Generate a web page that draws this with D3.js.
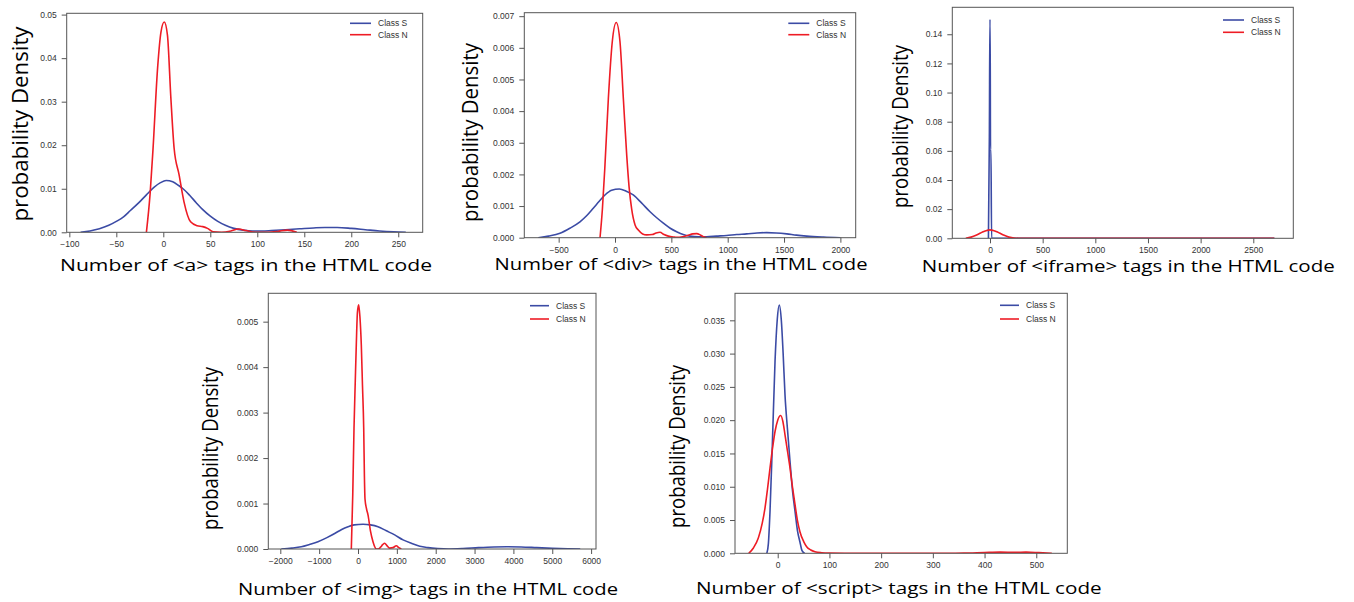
<!DOCTYPE html>
<html>
<head>
<meta charset="utf-8">
<script src="https://cdn.jsdelivr.net/npm/d3@7"></script>
<style>
body { margin: 0; background: #fff; }
</style>
</head>
<body>
<svg id="chart" width="1354" height="602"></svg>
<script>
/////////////// data ////////////////
const SERIES_NAMES = ["Class S", "Class N"];

// <a> tags
const A_TICKS_X = [-100, -50, 0, 50, 100, 150, 200, 250];
const A_TICKS_Y = [0, 0.01, 0.02, 0.03, 0.04, 0.05];
const A_S = [[-88,0],[-78,0.0003],[-68,0.0008],[-58,0.0016],[-50,0.0025],[-42,0.0036],[-35,0.0050],[-26,0.0068],[-18,0.0086],[-10,0.0103],[-3,0.0114],[3,0.0119],[10,0.0116],[16,0.0108],[21,0.0100],[28,0.0085],[35,0.0068],[42,0.0052],[50,0.0037],[58,0.0025],[66,0.0016],[75,0.0009],[85,0.0005],[95,0.0003],[105,0.0003],[115,0.0004],[130,0.0006],[145,0.0008],[160,0.0010],[172,0.0011],[185,0.0011],[200,0.0009],[215,0.0006],[230,0.0003],[245,0.0001],[258,0]];
const A_N = [[-18,0],[-14,0.009],[-11,0.019],[-6,0.038],[-2.5,0.046],[1,0.0483],[4.4,0.0453],[8,0.031],[11.5,0.0193],[16.8,0.0132],[22,0.007],[29,0.0024],[36,0.0015],[42,0.0013],[47,0.0009],[53,0.0001],[62,0],[72,0.0003],[80,0.00076],[88,0.0004],[98,0],[110,0],[122,0.0002],[132,0.0005],[142,0]];

// <div> tags
const DIV_TICKS_X = [-500, 0, 500, 1000, 1500, 2000];
const DIV_TICKS_Y = [0, 0.001, 0.002, 0.003, 0.004, 0.005, 0.006, 0.007];
const DIV_S = [[-681,0],[-590,0.00005],[-488,0.00014],[-400,0.0003],[-311,0.0005],[-250,0.0007],[-193,0.00093],[-140,0.00115],[-89,0.00135],[-30,0.0015],[38,0.00154],[100,0.00147],[162,0.00135],[235,0.0011],[311,0.00082],[370,0.00063],[429,0.00046],[490,0.0003],[547,0.00019],[605,0.0001],[665,0.00005],[740,0.00003],[814,0.00003],[900,0.00005],[991,0.00007],[1080,0.0001],[1169,0.00012],[1260,0.00015],[1346,0.00016],[1430,0.00015],[1524,0.00012],[1610,0.00008],[1701,0.00005],[1850,0.00002],[2000,0]];
const DIV_N = [[-133,0],[-112,0.0009],[-89,0.0023],[-59,0.0044],[-24,0.0062],[11,0.0068],[44,0.0062],[74,0.0044],[104,0.0026],[125,0.0016],[148,0.0009],[178,0.0004],[207,0.00024],[245,0.00012],[281,0.00009],[330,0.0001],[365,0.00015],[399,0.00017],[435,0.0001],[473,0.00005],[520,0.00002],[547,0.00001],[600,0.00003],[650,0.00008],[690,0.00012],[725,0.00013],[760,0.00008],[790,0.00002],[814,0]];

// <iframe> tags
const IFRAME_TICKS_X = [0, 500, 1000, 1500, 2000, 2500];
const IFRAME_TICKS_Y = [0, 0.02, 0.04, 0.06, 0.08, 0.10, 0.12, 0.14];
const IFRAME_S = [[-15,0],[-6,0.07],[-1,0.150],[1,0.150],[5,0.061],[9,0.061],[15,0],[100,0],[2700,0]];
const IFRAME_N = [[-230,0],[-180,0.0008],[-127,0.0023],[-90,0.0036],[-64,0.0045],[-30,0.0054],[0,0.0058],[30,0.0054],[64,0.0045],[90,0.0036],[127,0.0023],[180,0.0008],[230,0.0002],[300,0],[2700,0]];

// <img> tags
const IMG_TICKS_X = [-2000, -1000, 0, 1000, 2000, 3000, 4000, 5000, 6000];
const IMG_TICKS_Y = [0, 0.001, 0.002, 0.003, 0.004, 0.005];
const IMG_S = [[-1974,0],[-1700,0.00002],[-1459,0.00005],[-1250,0.0001],[-1030,0.00016],[-800,0.00025],[-600,0.00034],[-420,0.00043],[-257,0.00049],[-100,0.00053],[129,0.000543],[320,0.00053],[515,0.00049],[730,0.0004],[944,0.00031],[1160,0.0002],[1372,0.000125],[1590,0.00006],[1802,0.00003],[2050,0.00001],[2317,0],[2700,0.00001],[3100,0.00003],[3500,0.000045],[3830,0.00005],[4200,0.000045],[4600,0.00003],[5000,0.000015],[5400,0.000005],[5720,0]];
const IMG_N = [[-172,0],[-135,0.0012],[-103,0.00265],[-70,0.0037],[-44,0.00449],[-15,0.0052],[18,0.00537],[50,0.0051],[85,0.00449],[115,0.0036],[147,0.00265],[165,0.0016],[180,0.0011],[220,0.00088],[257,0.00075],[320,0.0004],[386,0.00016],[430,0.00005],[471,0],[520,0],[580,0.00004],[640,0.0001],[687,0.000125],[740,0.00008],[816,0.00002],[900,0.00003],[986,0.00007],[1050,0.00003],[1115,0]];

// <script> tags
const SCRIPT_TICKS_X = [0, 100, 200, 300, 400, 500];
const SCRIPT_TICKS_Y = [0, 0.005, 0.010, 0.015, 0.020, 0.025, 0.030, 0.035];
const SCRIPT_S = [[-21,0],[-18,0.0015],[-14.9,0.0063],[-10.4,0.0163],[-5.2,0.0288],[-0.8,0.0352],[3,0.0373],[7,0.0350],[10.5,0.0300],[14.1,0.0238],[19,0.0185],[23.8,0.0138],[28.5,0.0095],[33.5,0.0063],[38,0.0035],[43,0.0017],[47,0.0004],[52,0]];
const SCRIPT_N = [[-56,0],[-47,0.0008],[-37.5,0.0023],[-30,0.0045],[-24.6,0.0068],[-20,0.0095],[-14.9,0.0128],[-10,0.0158],[-5.2,0.0183],[0,0.0200],[5.8,0.0207],[10,0.0198],[14.1,0.0178],[19,0.0153],[23.8,0.0128],[28.5,0.0100],[33.5,0.0073],[38,0.0050],[43.1,0.0032],[50,0.0018],[56,0.0010],[64,0.0005],[72,0.00024],[85,0.00008],[100,0.00002],[130,0],[300,0],[360,0.00002],[400,0.00012],[430,0.00018],[460,0.00015],[480,0.00018],[505,0.0001],[530,0]];

/////////////// layout ////////////////
const COL_S = "#3b4ba5";
const COL_N = "#ee1c25";
const AXIS_COL = "#555";
const TICK_TXT = "#333";
const LN_W = 1.6;

// frame: [left, top, right, bottom]; xLab: [cx, baseline, length]; yLab: [baseline x, cy, length]; leg: [x0, y0, len, gap]
const PANELS = [
    { s: A_S, n: A_N, tx: A_TICKS_X, ty: A_TICKS_Y, fy: ".2f", frame: [66.7, 13.3, 422.7, 232.3], xDom: [-102.8, 276], yDom: [0, 0.0503],
      label: "Number of <a> tags in the HTML code", xLab: [246, 271, 372], yLab: [28, 124, 195], leg: [350, 23.3, 21, 11.4] },
    { s: DIV_S, n: DIV_N, tx: DIV_TICKS_X, ty: DIV_TICKS_Y, fy: ".3f", frame: [524.3, 12.7, 855.7, 237.7], xDom: [-805, 2136], yDom: [0, 0.00711],
      label: "Number of <div> tags in the HTML code", xLab: [681, 270, 373], yLab: [478, 132.5, 179], leg: [788.3, 23.3, 21, 11.4] },
    { s: IFRAME_S, n: IFRAME_N, tx: IFRAME_TICKS_X, ty: IFRAME_TICKS_Y, fy: ".2f", frame: [952.3, 7.3, 1293.3, 238.3], xDom: [-358, 2880], yDom: [0, 0.1585],
      label: "Number of <iframe> tags in the HTML code", xLab: [1128.3, 272, 413], yLab: [908, 126.5, 163], leg: [1223, 20, 21, 12.3] },
    { s: IMG_S, n: IMG_N, tx: IMG_TICKS_X, ty: IMG_TICKS_Y, fy: ".3f", frame: [268.3, 293.3, 596, 549], xDom: [-2309, 6126], yDom: [0, 0.005624],
      label: "Number of <img> tags in the HTML code", xLab: [428, 595, 380], yLab: [218, 448.5, 163], leg: [530, 305.7, 19, 13.3] },
    { s: SCRIPT_S, n: SCRIPT_N, tx: SCRIPT_TICKS_X, ty: SCRIPT_TICKS_Y, fy: ".3f", frame: [735, 293.3, 1067.3, 553.3], xDom: [-82.6, 560], yDom: [0, 0.03906],
      label: "Number of <script> tags in the HTML code", xLab: [898.8, 594, 405.7], yLab: [685, 446.5, 163], leg: [1000, 305.3, 19, 13.7] }
];

const SVG = d3.select("#chart");
SVG.append("rect").attr("width", 1354).attr("height", 602).attr("fill", "#fff");

// draws one density panel
function drawPanel(p, i) {
    const [l, t, r, b] = p.frame;
    const x = d3.scaleLinear().domain(p.xDom).range([l, r]);
    const y = d3.scaleLinear().domain(p.yDom).range([b, t]);
    const g = SVG.append("g").attr("id", `panel${i}`);
    const clipId = `clip${i}`;
    g.append("clipPath").attr("id", clipId)
        .append("rect").attr("x", l).attr("y", t).attr("width", r - l).attr("height", b - t);

    const line = d3.line().x(d => x(d[0])).y(d => y(d[1])).curve(d3.curveMonotoneX);
    const curves = g.append("g").attr("clip-path", `url(#${clipId})`);
    [[p.s, COL_S], [p.n, COL_N]].forEach(([data, col]) => {
        curves.append("path")
            .datum(data)
            .attr("d", line)
            .attr("fill", "none")
            .attr("stroke", col)
            .attr("stroke-width", LN_W)
            .attr("stroke-linejoin", "round");
    });

    // axes
    const xAxis = g.append("g").attr("transform", `translate(0, ${b})`)
        .call(d3.axisBottom(x).tickValues(p.tx).tickFormat(d3.format("d")).tickSize(5).tickPadding(4));
    const yAxis = g.append("g").attr("transform", `translate(${l}, 0)`)
        .call(d3.axisLeft(y).tickValues(p.ty).tickFormat(d3.format(p.fy)).tickSize(5).tickPadding(5));
    [xAxis, yAxis].forEach(a => {
        a.select(".domain").remove();
        a.selectAll("line").attr("stroke", AXIS_COL);
        a.selectAll("text").attr("fill", TICK_TXT)
            .style("font-family", "'Liberation Sans', Arial, sans-serif")
            .style("font-size", "8.5px");
    });

    // frame
    g.append("rect").attr("x", l).attr("y", t).attr("width", r - l).attr("height", b - t)
        .attr("fill", "none").attr("stroke", AXIS_COL).attr("stroke-width", 1);

    // legend
    const [lx, ly, len, gap] = p.leg;
    [COL_S, COL_N].forEach((col, k) => {
        g.append("line").attr("x1", lx).attr("x2", lx + len)
            .attr("y1", ly + k * gap).attr("y2", ly + k * gap)
            .attr("stroke", col).attr("stroke-width", LN_W);
        g.append("text").attr("x", lx + len + 7).attr("y", ly + k * gap)
            .attr("dy", "0.35em")
            .attr("fill", TICK_TXT)
            .style("font-family", "'Liberation Sans', Arial, sans-serif")
            .style("font-size", "8.5px")
            .text(SERIES_NAMES[k]);
    });

    // labels
    g.append("text")
        .attr("x", p.xLab[0]).attr("y", p.xLab[1])
        .attr("text-anchor", "middle")
        .attr("textLength", p.xLab[2]).attr("lengthAdjust", "spacingAndGlyphs")
        .style("font-family", "'Open Sans', sans-serif")
        .style("font-size", "17px")
        .attr("fill", "#000")
        .text(p.label);
    g.append("text")
        .attr("transform", `translate(${p.yLab[0]}, ${p.yLab[1]}) rotate(-90)`)
        .attr("text-anchor", "middle")
        .attr("textLength", p.yLab[2]).attr("lengthAdjust", "spacingAndGlyphs")
        .style("font-family", "'Open Sans', sans-serif")
        .style("font-size", "22px")
        .attr("fill", "#000")
        .text("probability Density");
}

PANELS.forEach(drawPanel);
</script>
</body>
</html>
